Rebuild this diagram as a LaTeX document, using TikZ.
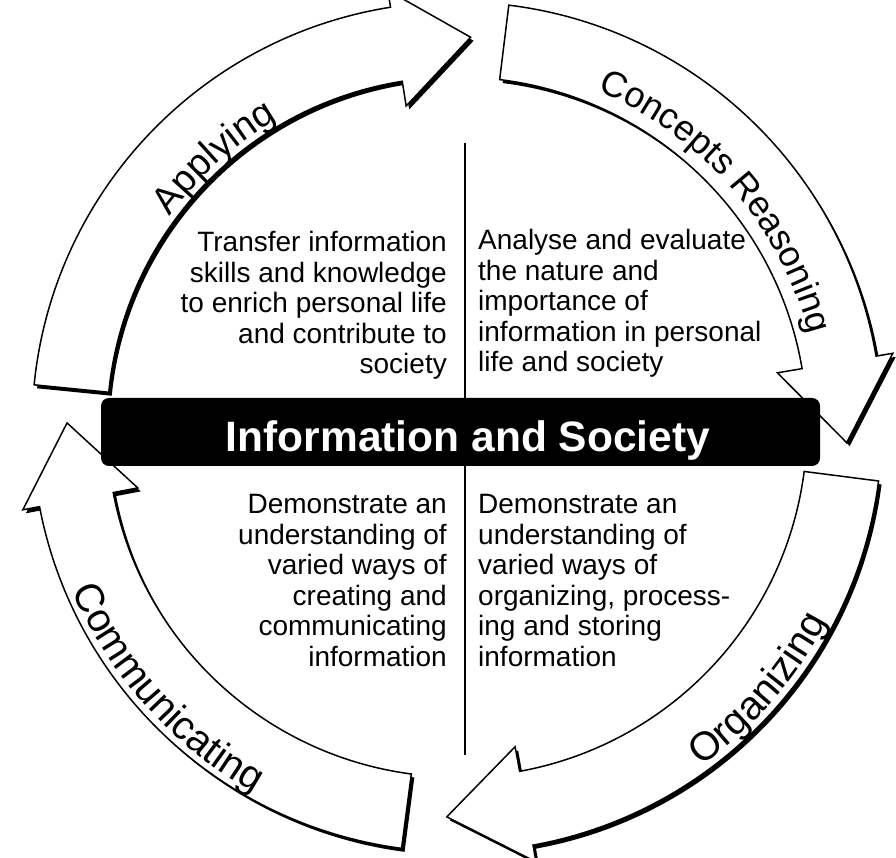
\documentclass[tikz,border=0pt]{standalone}
\usepackage{fontspec}
\setmainfont{Liberation Sans}
\usetikzlibrary{decorations.text}

\tikzset{
  arrowline/.style={draw=black, fill=white, line width=1.5pt, line join=miter},
  arrowshadow/.style={fill=black, shift={(3pt,-3.5pt)}},
  bodytext/.style={inner sep=0pt, font=\fontsize{28}{30.5}\selectfont},
  titletext/.style={inner sep=0pt, text=white, font=\bfseries\fontsize{42.5}{42.5}\selectfont},
  titlebar/.style={fill=black, rounded corners=8pt, inner sep=0pt},
  divider/.style={line width=1.8pt},
}

% curved block arrow: #1 tail angle, #2 angle of the head base, #3 angle of the tip
\newcommand\ringarrowpath[3]{%
  (#1:425pt) arc[start angle=#1, end angle=#2, radius=425pt]
  -- (#2:442pt) -- (#3:390pt) -- (#2:325pt) -- (#2:350pt)
  arc[start angle=#2, end angle=#1, radius=350pt] -- cycle}
\newcommand\ringarrow[3]{%
  \path[arrowshadow] \ringarrowpath{#1}{#2}{#3};
  \path[arrowline] \ringarrowpath{#1}{#2}{#3};}

\newcommand\labelfont{\fontsize{38}{38}\selectfont}
\newcommand\biglabelfont{\fontsize{40}{40}\selectfont}

\begin{document}
\begin{tikzpicture}[x=1pt, y=1pt]
\useasboundingbox (0,0) rectangle (896,857);

\begin{scope}[shift={(457,430)}]
  % the four arrows of the cycle
  \ringarrow{174.3}{99}{88}
  \ringarrow{83}{9.6}{-2.3}
  \ringarrow{-7.3}{-79.7}{-91.5}
  \ringarrow{-97.5}{-169.2}{-180.6}

  % labels written along the arrows
  \path[decorate, decoration={text along path, text align=center,
      text={|\labelfont|Applying}}]
    (162:356pt) arc[start angle=162, end angle=102, radius=356pt];
  \path[decorate, decoration={text along path, text align=center,
      text={|\fontsize{36}{36}\selectfont|Concepts Reasoning}}]
    (82:364pt) arc[start angle=82, end angle=0, radius=364pt];
  \path[decorate, decoration={text along path, text align=center,
      text={|\biglabelfont|Organizing}}]
    (-81:418pt) arc[start angle=-81, end angle=-1, radius=418pt];
  \path[decorate, decoration={text along path, text align=center,
      text={|\biglabelfont|Communicating}}]
    (180:418pt) arc[start angle=180, end angle=264, radius=418pt];
\end{scope}

% dividing line between the four quadrants
\coordinate (divtop) at (465,714);
\coordinate (divbottom) at (465,102);
\draw[divider] (divtop) -- (divbottom);

% central bar with the title
\node[titlebar, minimum width=719pt, minimum height=68pt] (bar) at (460.5,425) {};
\node[titletext, anchor=base] (title) at (468,405) {Information and Society};

% quadrant texts
\node[bodytext, align=right, anchor=north east] (applytext) at (447,625.5)
  {Transfer information\\skills and knowledge\\to enrich personal life\\and contribute to\\society};
\node[bodytext, align=left, anchor=north west] (concepttext) at (478,627.5)
  {Analyse and evaluate\\the nature and\\importance of\\information in personal\\life and society};
\node[bodytext, align=right, anchor=north east] (commtext) at (447,362.5)
  {Demonstrate an\\understanding of\\varied ways of\\creating and\\communicating\\information};
\node[bodytext, align=left, anchor=north west] (orgtext) at (478,362.5)
  {Demonstrate an\\understanding of\\varied ways of\\organizing, process-\\ing and storing\\information};
\end{tikzpicture}
\end{document}
